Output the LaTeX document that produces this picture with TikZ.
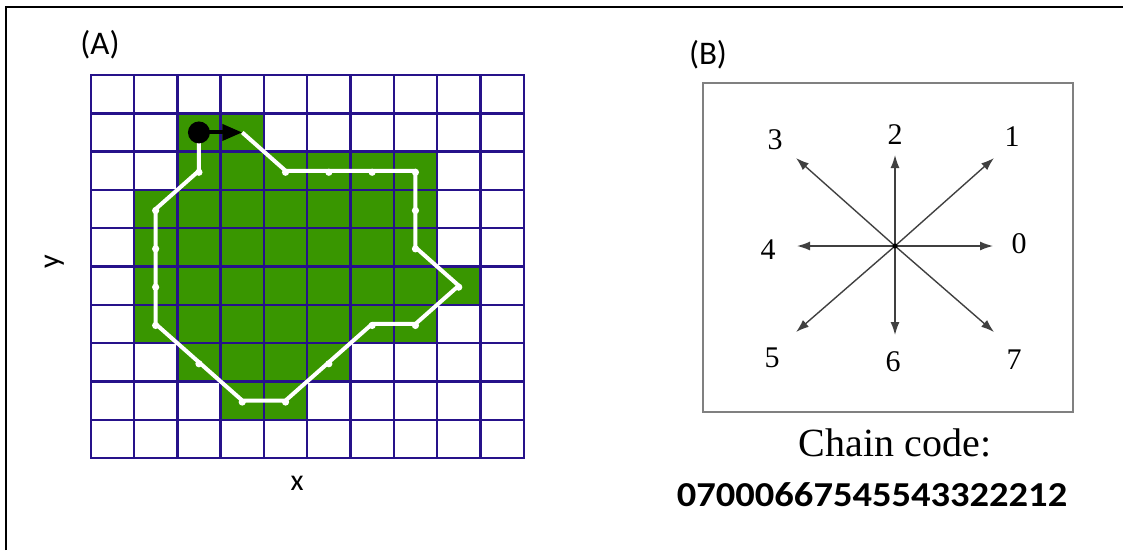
\documentclass[tikz,border=0pt]{standalone}
\usepackage{fontspec}
\setmainfont{Liberation Serif}
\newfontfamily\labelfont{Carlito}
\usetikzlibrary{arrows.meta}
\definecolor{gridblue}{RGB}{38,18,138}
\definecolor{blobgreen}{RGB}{57,150,0}
\definecolor{boxgray}{RGB}{128,128,128}

\begin{document}
\begin{tikzpicture}[x=1pt,y=-1pt,
    gridline/.style={draw=gridblue, line width=2.4pt, line cap=rect},
    cell/.style={fill=blobgreen},
    contour/.style={draw=white, line width=4pt, line join=round},
    pathdot/.style={fill=white},
    dir/.style={draw=black!75, line width=1.4pt, -{Latex[length=13pt,width=9pt]}},
    digit/.style={font=\fontsize{30}{30}\selectfont},
    panel/.style={font=\labelfont\fontsize{33}{33}\selectfont}
]
\useasboundingbox (0,0) rectangle (1123,550);

% frame
\draw[line width=2pt] (6,550) -- (6,7) -- (1123,7);

% (A) grid with the shape and its contour
\node[panel] (labA) at (100,45) {(A)};
\begin{scope}[shift={(90.7pt,-75pt)}, x=43.3pt, y=-38.3pt]
    \foreach \r/\a/\b in {1/2/3, 2/2/7, 3/1/7, 4/1/7, 5/1/8, 6/1/7, 7/2/5, 8/3/4}
        \fill[cell] (\a,\r) rectangle (\b+1,\r+1);
    \foreach \i in {0,...,10} {
        \draw[gridline] (\i,0) -- (\i,10);
        \draw[gridline] (0,\i) -- (10,\i);
    }
    \foreach \c/\r [count=\k from 0] in {2/1, 3/1, 4/2, 5/2, 6/2, 7/2, 7/3, 7/4, 8/5, 7/6,
                                           6/6, 5/7, 4/8, 3/8, 2/7, 1/6, 1/5, 1/4, 1/3, 2/2}
        \coordinate (p\k) at (\c+0.5,\r+0.5);
    \draw[contour] (p1) \foreach \k in {2,...,19} {-- (p\k)} -- (p0);
    \foreach \k in {2,...,19}
        \fill[pathdot] ([yshift=-1.5pt]p\k) circle (3.6pt);
    \fill (p0) circle (11pt);
    \draw[line width=4pt, -{Triangle[length=20pt,width=16pt]}] (p0) -- (p1);
\end{scope}
\node[font=\labelfont\fontsize{30}{30}\selectfont] (xlab) at (297,483) {x};
\node[font=\labelfont\fontsize{30}{30}\selectfont, rotate=90] (ylab) at (55,262) {y};

% (B) the eight directions
\node[panel] (labB) at (708,55) {(B)};
\draw[draw=boxgray, line width=2pt] (703,83) rectangle (1073,412);
\coordinate (c) at (895,246);
\foreach \dx/\dy [count=\k from 0] in {98/0, 99/-88, 0/-91, -99/-88, -98/0, -99/86, 0/89, 99/86}
    \coordinate (e\k) at (895+\dx,246+\dy);
\foreach \k in {0,...,7}
    \draw[dir] (c) -- (e\k);
\fill (c) circle (2.5pt);
\node[digit] (d0) at (1019,244) {0};
\node[digit] (d1) at (1012,137) {1};
\node[digit] (d2) at (895,135) {2};
\node[digit] (d3) at (775,140) {3};
\node[digit] (d4) at (768,250) {4};
\node[digit] (d5) at (772,358) {5};
\node[digit] (d6) at (893,362) {6};
\node[digit] (d7) at (1014,360) {7};
\node[font=\fontsize{40}{40}\selectfont] (chainlab) at (895,443) {Chain code:};
\node[font=\labelfont\bfseries\fontsize{35}{35}\selectfont] (chaincode) at (872,495)
    {\scalebox{1.1}[1]{07000667545543322212}};
\end{tikzpicture}
\end{document}
